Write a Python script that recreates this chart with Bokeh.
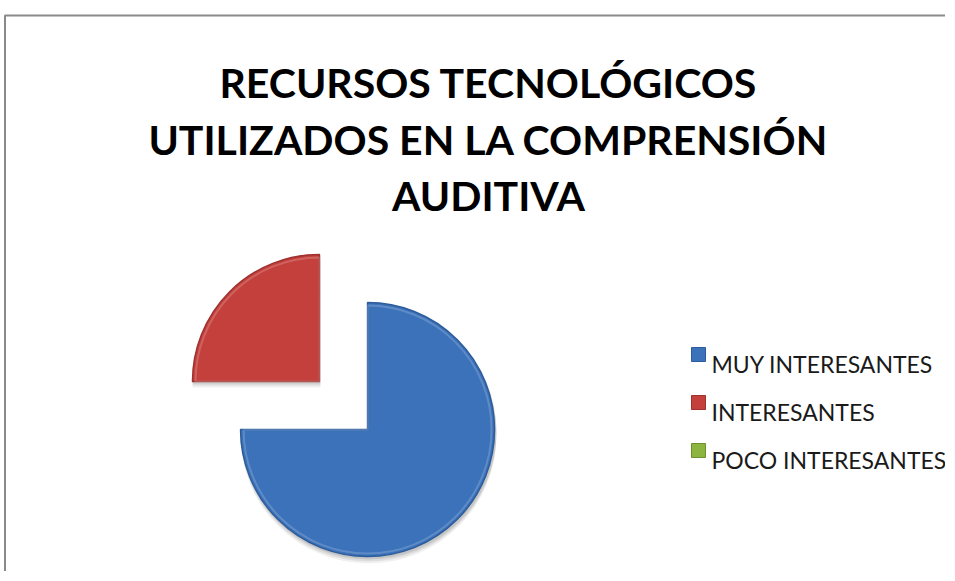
import math
from bokeh.plotting import figure
from bokeh.models import Range1d, ColumnDataSource
from bokeh.core.properties import value
from bokeh.embed import file_html
from bokeh.resources import INLINE

# ---- data ----
title_lines = ["RECURSOS TECNOLÓGICOS", "UTILIZADOS EN LA COMPRENSIÓN", "AUDITIVA"]
categories = ["MUY INTERESANTES", "INTERESANTES", "POCO INTERESANTES"]
values = [75, 25, 0]

# ---- styles ----
fills = ["#3B72BA", "#C4403C", "#8DB43F"]
edges = ["#2D5C9A", "#9E302D", "#6E8F2E"]

W, H = 945, 571
p = figure(width=W, height=H, output_backend="svg", toolbar_location=None,
           x_range=Range1d(0, W), y_range=Range1d(0, H), min_border=0)
p.axis.visible = False
p.grid.visible = False
p.outline_line_color = None
p.background_fill_color = "white"
p.border_fill_color = "white"

# chart frame (only top and left visible, as in the cropped reference)
p.line(x=[4.5, 4.5, W + 10], y=[-10, H - 15, H - 15], line_color="#8a8a8a", line_width=2)

# ---- title ----
tx = 488
ty0 = 489
tdy = 56.5
p.text(x=[tx] * len(title_lines), y=[ty0 - i * tdy for i in range(len(title_lines))],
       text=title_lines, text_font=value("Lato"), text_font_style="bold",
       text_font_size="41px", text_align="center", text_baseline="alphabetic",
       text_color="#000000")

# ---- exploded pie ----
cx, cy, r, explode = 343, 166, 127, 34
total = sum(values)
starts, ends, xs, ys = [], [], [], []
ang = math.pi / 2
for v in values:
    span = 2 * math.pi * v / total
    s, e = ang, ang - span
    mid = (s + e) / 2
    starts.append(s)
    ends.append(e)
    xs.append(cx + explode * math.cos(mid))
    ys.append(cy + explode * math.sin(mid))
    ang = e

nz = [i for i, v in enumerate(values) if v > 0]
srcnz = ColumnDataSource(dict(x=[xs[i] for i in nz], y=[ys[i] for i in nz],
                              start=[starts[i] for i in nz], end=[ends[i] for i in nz],
                              fill=[fills[i] for i in nz], edge=[edges[i] for i in nz]))
# soft shadow
for off, a in [(6, 0.06), (4, 0.08), (2, 0.10)]:
    sh = ColumnDataSource(dict(x=[xs[i] + 1 for i in nz], y=[ys[i] - off for i in nz],
                               start=[starts[i] for i in nz], end=[ends[i] for i in nz]))
    p.wedge(x="x", y="y", radius=r + 1, start_angle="start", end_angle="end",
            direction="clock", source=sh, fill_color="#000000", fill_alpha=a,
            line_color=None)
p.wedge(x="x", y="y", radius=r, start_angle="start", end_angle="end",
        direction="clock", source=srcnz, fill_color="fill", line_color="edge",
        line_width=1.5)
# light bevel rim
p.wedge(x="x", y="y", radius=r - 3, start_angle="start", end_angle="end",
        direction="clock", source=srcnz, fill_color=None, line_color="white",
        line_alpha=0.18, line_width=2)

# ---- legend ----
lx, ly0, ldy = 698, 217, 48
p.rect(x=[lx] * len(categories), y=[ly0 - i * ldy for i in range(len(categories))],
       width=14, height=14, fill_color=fills, line_color=edges, line_width=1)
p.text(x=[lx + 13] * len(categories), y=[ly0 - 9 - i * ldy for i in range(len(categories))],
       text=categories, text_font=value("Lato"), text_font_size="23px",
       text_align="left", text_baseline="alphabetic", text_color="#1a1a1a")

open("out.html", "w").write(file_html(p, INLINE))
